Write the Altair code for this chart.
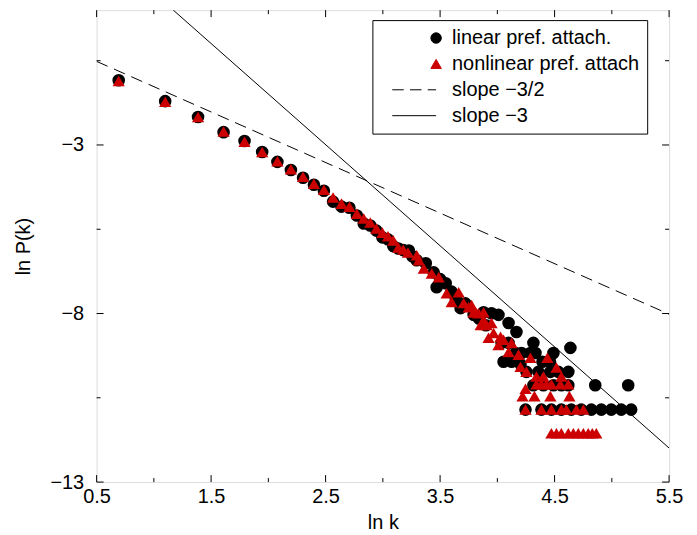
import altair as alt
import pandas as pd

# ---- data ----
lin_x = [0.693, 1.099, 1.386, 1.609, 1.792, 1.946, 2.079, 2.197, 2.303, 2.398, 2.485,
         2.565, 2.639, 2.708, 2.773, 2.833, 2.890, 2.944, 2.996, 3.045, 3.091, 3.135,
         3.178, 3.227, 3.258, 3.296, 3.375, 3.444, 3.470, 3.500, 3.549, 3.600, 3.636,
         3.679, 3.720, 3.793, 3.840, 3.880, 3.900, 3.949, 4.010, 4.037, 4.054, 4.098,
         4.098, 4.124, 4.159, 4.167, 4.202, 4.211, 4.254, 4.289, 4.315, 4.333, 4.359,
         4.394, 4.460, 4.463, 4.490, 4.533, 4.620, 4.638,
         4.315, 4.402, 4.490, 4.559, 4.620, 4.855, 5.143,
         4.246, 4.385, 4.472, 4.559, 4.646, 4.733, 4.821, 4.908, 4.995, 5.082, 5.169]
lin_y = [-1.08, -1.70, -2.17, -2.62, -2.88, -3.21, -3.50, -3.74, -3.97, -4.18, -4.36,
         -4.68, -4.83, -4.86, -5.09, -5.33, -5.39, -5.54, -5.74, -5.80, -6.00, -6.07,
         -6.12, -6.13, -6.30, -6.42, -6.51, -6.78, -7.22, -6.98, -7.10, -7.35, -7.54,
         -7.84, -7.70, -8.04, -8.15, -7.96, -8.35, -7.99, -8.04, -8.87, -9.43, -8.28,
         -8.87, -9.43, -9.17, -8.55, -9.50, -9.17, -9.73, -9.17, -8.87, -9.17, -9.73,
         -9.43, -9.43, -9.73, -9.17, -9.73, -9.73, -9.02,
         -10.13, -10.13, -10.13, -10.13, -10.13, -10.13, -10.13,
         -10.85, -10.85, -10.85, -10.85, -10.85, -10.85, -10.85, -10.85, -10.85, -10.85, -10.85]

non_x = [0.693, 1.099, 1.386, 1.609, 1.792, 1.946, 2.079, 2.197, 2.303, 2.398, 2.485,
         2.565, 2.639, 2.708, 2.773, 2.833, 2.890, 2.944, 2.996, 3.045, 3.091, 3.135,
         3.178, 3.219, 3.296, 3.314, 3.357, 3.427, 3.488, 3.557, 3.601, 3.662, 3.706,
         3.749, 3.775, 3.793, 3.810, 3.836, 3.854, 3.880, 3.880, 3.906, 3.923, 3.949,
         3.967, 4.010, 4.028, 4.054, 4.098, 4.124, 4.185, 4.202, 4.254, 4.289, 4.341,
         4.402, 4.437, 4.516, 4.559,
         4.246, 4.341, 4.385, 4.429, 4.472, 4.551, 4.620,
         4.220, 4.324, 4.463, 4.629,
         4.246, 4.385, 4.472, 4.559, 4.603, 4.690, 4.751,
         4.472, 4.516, 4.559, 4.620, 4.664, 4.707, 4.751, 4.794, 4.829, 4.864]
non_y = [-1.10, -1.72, -2.17, -2.60, -2.90, -3.21, -3.48, -3.72, -3.94, -4.15, -4.33,
         -4.56, -4.74, -4.83, -5.04, -5.18, -5.30, -5.48, -5.60, -5.71, -5.83, -6.04,
         -6.10, -6.19, -6.27, -6.42, -6.66, -6.81, -6.92, -7.40, -7.66, -7.37, -7.69,
         -7.81, -7.75, -7.96, -7.96, -7.99, -8.34, -8.19, -7.96, -8.34, -8.72, -8.28,
         -8.58, -8.93, -8.69, -8.78, -9.14, -8.87, -9.22, -9.58, -9.73, -9.31, -9.87,
         -9.87, -9.31, -9.60, -9.87,
         -10.23, -10.10, -10.10, -10.10, -10.10, -10.10, -10.10,
         -10.45, -10.45, -10.45, -10.45,
         -10.85, -10.85, -10.85, -10.85, -10.85, -10.85, -10.85,
         -11.55, -11.55, -11.55, -11.55, -11.55, -11.55, -11.55, -11.55, -11.55, -11.55]

line_x = [0.5, 5.5]
dash_y = [-0.52, -8.02]     # slope -3/2
solid_y = [3.01, -11.99]    # slope -3

series = ["linear pref. attach.", "nonlinear pref. attach", "slope \u22123/2", "slope \u22123"]

x_major = [0.5, 1.5, 2.5, 3.5, 4.5, 5.5]
x_minor = [1.0, 2.0, 3.0, 4.0, 5.0]
y_major = [-13, -8, -3]
y_minor = [-10.5, -5.5, -0.5]

# ---- chart ----
W, H = 575, 474
FONT = "Liberation Sans"
RED = "#cc0000"

dash_path = "M-8.4,0H-6.2M-5,0H-2.8M-1.6,0H0"
solid_path = "M-8.4,0H0"

xs = alt.Scale(domain=[0.5, 5.5], nice=False, zero=False)
ys = alt.Scale(domain=[-13, 1], nice=False, zero=False)

xaxis = alt.Axis(values=x_major, format=".1f", title="ln k", ticks=False, domain=False,
                 grid=False, labelFont=FONT, labelFontSize=20, labelColor="black",
                 labelPadding=5, titleFont=FONT, titleFontSize=20, titleFontWeight="normal",
                 titleColor="black", titlePadding=6, labelFlush=False)
yaxis = alt.Axis(values=y_major, title="ln P(k)", ticks=False, domain=False, grid=False,
                 labelExpr="replace(datum.label, '-', '\u2212')",
                 labelFont=FONT, labelFontSize=20, labelColor="black", labelPadding=13,
                 titleFont=FONT, titleFontSize=20, titleFontWeight="normal",
                 titleColor="black", titlePadding=16, labelFlush=False)

leg = alt.Legend(title=None, orient="none", legendX=277, legendY=10,
                 labelFont=FONT, labelFontSize=20, labelColor="black",
                 symbolSize=110, symbolStrokeWidth=1, symbolOffset=46, labelOffset=6,
                 rowPadding=6, padding=8, strokeColor="black", fillColor="white",
                 labelLimit=400)

shape_sc = alt.Scale(domain=series, range=["circle", "triangle-up", dash_path, solid_path])
fill_sc = alt.Scale(domain=series, range=["black", RED, "transparent", "transparent"])
stroke_sc = alt.Scale(domain=series, range=["black", RED, "black", "black"])

df_lin = pd.DataFrame({"x": lin_x, "y": lin_y, "series": series[0]})
df_non = pd.DataFrame({"x": non_x, "y": non_y, "series": series[1]})

X = lambda f: alt.X(f, scale=xs, axis=xaxis)
Y = lambda f: alt.Y(f, scale=ys, axis=yaxis)


def points(df, size):
    return alt.Chart(df).mark_point(filled=True, size=size, strokeWidth=0, opacity=1).encode(
        x=X("x:Q"), y=Y("y:Q"),
        shape=alt.Shape("series:N", scale=shape_sc, legend=leg),
        fill=alt.Fill("series:N", scale=fill_sc, legend=leg),
        stroke=alt.Stroke("series:N", scale=stroke_sc, legend=leg),
    )


circles = points(df_lin, 160)
triangles = points(df_non, 150)

dashed = alt.Chart(pd.DataFrame({"x": line_x, "y": dash_y})).mark_line(
    clip=True, color="black", strokeWidth=1, strokeDash=[12, 7]).encode(x=X("x:Q"), y=Y("y:Q"))
solid = alt.Chart(pd.DataFrame({"x": line_x, "y": solid_y})).mark_line(
    clip=True, color="black", strokeWidth=1).encode(x=X("x:Q"), y=Y("y:Q"))


def xticks(vals, length):
    base = alt.Chart(pd.DataFrame({"v": vals})).mark_rule(color="black", strokeWidth=1)
    b = base.encode(x=X("v:Q"), y=alt.value(H), y2=alt.value(H - length))
    t = base.encode(x=X("v:Q"), y=alt.value(0), y2=alt.value(length))
    return [b, t]


def yticks(vals, length):
    base = alt.Chart(pd.DataFrame({"v": vals})).mark_rule(color="black", strokeWidth=1)
    l = base.encode(y=Y("v:Q"), x=alt.value(0), x2=alt.value(length))
    r = base.encode(y=Y("v:Q"), x=alt.value(W), x2=alt.value(W - length))
    return [l, r]


ticks = xticks(x_major, 7) + xticks(x_minor, 4) + yticks(y_major, 7) + yticks(y_minor, 4)

chart = alt.layer(circles, triangles, dashed, solid, *ticks).properties(
    width=W, height=H,
    autosize=alt.AutoSizeParams(type="none"),
    padding={"left": 89, "top": 1, "right": 20, "bottom": 50},
).configure_view(stroke="black", strokeWidth=1).configure(background="white")

chart.save("out.html", embed_options={"renderer": "svg", "actions": False})
